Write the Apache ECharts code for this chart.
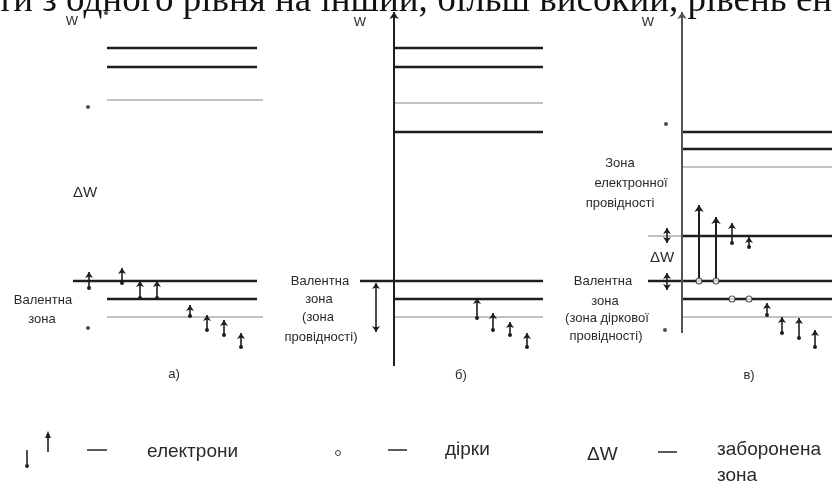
<!DOCTYPE html>
<html>
<head>
<meta charset="utf-8">
<script src="https://cdn.jsdelivr.net/npm/echarts@6/dist/echarts.min.js"></script>
<style>
html, body { margin: 0; padding: 0; background: #fff; }
#chart { width: 833px; height: 485px; }
</style>
</head>
<body>
<div id="chart"></div>
<script>
// energy W (arbitrary units), x measured from the W axis of each panel
const wMax = 35.3;

// level lines: [xFrom, xTo, W]
const levelsA = [[0.1, 15.1, 31.7], [0.1, 15.1, 29.8], [-3.3, 15.1, 8.4], [0.1, 15.1, 6.6]];
const faintA = [[0.1, 15.7, 26.5], [0.1, 15.7, 4.8]];
const levelsB = [[0, 14.9, 31.7], [0, 14.9, 29.8], [0, 14.9, 23.3], [-3.4, 14.9, 8.4], [0, 14.9, 6.6]];
const faintB = [[0, 14.9, 26.2], [0, 14.9, 4.8]];
const levelsC = [[0, 15, 23.3], [0, 15, 21.6], [0, 15, 12.9], [-3.4, 15, 8.4], [0, 15, 6.6]];
const faintC = [[0, 15, 19.8], [-3.4, 0, 12.9], [0, 15, 4.8]];

// W axes: [x, Wfrom, Wto]
const axisB = [[0, -0.2, 35.3]];
const axisC = [[0, 3.2, 35.3]];

// electrons: [x, Wbottom, Wtop]
const electronsA = [[-1.7, 7.7, 9.3], [1.6, 8.2, 9.7], [3.4, 6.7, 8.4], [5.1, 6.7, 8.4],
  [8.4, 4.9, 6.0], [10.1, 3.5, 5.0], [11.8, 3.0, 4.5], [13.5, 1.8, 3.2]];
const electronsB = [[8.3, 4.7, 6.7], [9.9, 3.5, 5.2], [11.6, 3.0, 4.3], [13.3, 1.8, 3.2]];
const electronsC = [[5.0, 12.2, 14.2], [6.7, 11.8, 12.8], [8.5, 5.0, 6.2],
  [10.0, 3.2, 4.8], [11.7, 2.7, 4.7], [13.3, 1.8, 3.5]];
// jumps from valence band into conduction band (panel c)
const jumpsC = [[1.7, 8.4, 16.0], [3.4, 8.4, 14.8]];
// holes: [x, W]
const holesC = [[1.7, 8.4], [3.4, 8.4], [5.0, 6.6], [6.7, 6.6]];
// gap markers (double arrows): [x, Wfrom, Wto]
const gapB = [[-1.8, 3.3, 8.2]];
const gapC = [[-1.5, 12.2, 13.7], [-1.5, 7.5, 9.2]];
// stray dots of the print
const dotsA = [[0, 35.2], [-1.8, 25.8], [-1.8, 3.7]];
const dotsC = [[-1.6, 24.1], [-1.7, 3.5]];

const dark = '#1e1e1e';
const faint = '#c2c2c2';

function flat(list) {
  return list.map(([x1, x2, w]) => ({ coords: [[x1, w], [x2, w]] }));
}
function vert(list) {
  return list.map(([x, w1, w2]) => ({ coords: [[x, w1], [x, w2]] }));
}

function panelSeries(i, o) {
  const base = { type: 'lines', coordinateSystem: 'cartesian2d', xAxisIndex: i, yAxisIndex: i, silent: true, z: 2 };
  const s = [
    Object.assign({}, base, { data: flat(o.levels), symbol: 'none', lineStyle: { color: dark, width: 2.4, opacity: 1 } }),
    Object.assign({}, base, { data: flat(o.faint), symbol: 'none', lineStyle: { color: faint, width: 2, opacity: 1 } }),
    Object.assign({}, base, { data: vert(o.electrons), symbol: ['circle', 'arrow'], symbolSize: [4, 6],
      lineStyle: { color: dark, width: 1.6, opacity: 1 } })
  ];
  if (o.axis) s.push(Object.assign({}, base, { data: vert(o.axis), symbol: ['none', 'arrow'], symbolSize: [1, 7],
    lineStyle: { color: o.axisColor, width: 2, opacity: 1 } }));
  if (o.gap) s.push(Object.assign({}, base, { data: vert(o.gap), symbol: ['arrow', 'arrow'], symbolSize: 6,
    lineStyle: { color: dark, width: 1.6, opacity: 1 } }));
  if (o.jumps) s.push(Object.assign({}, base, { data: vert(o.jumps), symbol: ['none', 'arrow'], symbolSize: 7,
    lineStyle: { color: dark, width: 2, opacity: 1 } }));
  if (o.dots) s.push({ type: 'scatter', xAxisIndex: i, yAxisIndex: i, data: o.dots, symbolSize: 4,
    itemStyle: { color: '#222' }, silent: true });
  if (o.holes) s.push({ type: 'scatter', xAxisIndex: i, yAxisIndex: i, data: o.holes, symbol: 'circle', symbolSize: 6,
    itemStyle: { color: '#fff', borderColor: '#333', borderWidth: 1.2 }, silent: true, z: 5 });
  return s;
}

const labelFont = '13px "Liberation Sans", Arial, sans-serif';
const legendFont = '19px "Liberation Sans", Arial, sans-serif';

function txt(text, x, y, font, align, color) {
  return { type: 'text', x: x, y: y, silent: true,
    style: { text: text, font: font, fill: color || '#2a2a2a', align: align || 'center', verticalAlign: 'middle' } };
}

const myChart = echarts.init(document.getElementById('chart'));
myChart.setOption({
  animation: false,
  backgroundColor: '#fff',
  grid: [
    { left: 6, top: 12, width: 270, height: 353 },
    { left: 284, top: 12, width: 270, height: 353 },
    { left: 562, top: 12, width: 270, height: 353 }
  ],
  xAxis: [
    { gridIndex: 0, type: 'value', min: -10, max: 17, show: false },
    { gridIndex: 1, type: 'value', min: -11, max: 16, show: false },
    { gridIndex: 2, type: 'value', min: -12, max: 15, show: false }
  ],
  yAxis: [0, 1, 2].map(i => ({ gridIndex: i, type: 'value', min: 0, max: wMax, show: false })),
  series: [].concat(
    panelSeries(0, { levels: levelsA, faint: faintA, electrons: electronsA, dots: dotsA }),
    panelSeries(1, { levels: levelsB, faint: faintB, electrons: electronsB, axis: axisB, axisColor: dark, gap: gapB }),
    panelSeries(2, { levels: levelsC, faint: faintC, electrons: electronsC, axis: axisC, axisColor: '#555',
      gap: gapC, jumps: jumpsC, holes: holesC, dots: dotsC })
  ),
  graphic: [
    txt('ти з одного рівня на інший, більш високий, рівень ен', -3, 1, '37px "Liberation Serif", serif', 'left', '#111'),
    // panel a
    txt('W', 72, 21, labelFont),
    txt('ΔW', 85, 193, '15px "Liberation Sans", Arial, sans-serif'),
    txt('Валентна', 43, 300, labelFont),
    txt('зона', 42, 319, labelFont),
    txt('а)', 174, 374, labelFont),
    // panel b
    txt('W', 360, 22, labelFont),
    txt('Валентна', 320, 281, labelFont),
    txt('зона', 319, 299, labelFont),
    txt('(зона', 318, 317, labelFont),
    txt('провідності)', 321, 337, labelFont),
    txt('б)', 461, 375, labelFont),
    // panel c
    txt('W', 648, 22, labelFont),
    txt('Зона', 620, 163, labelFont),
    txt('електронної', 631, 183, labelFont),
    txt('провідності', 620, 203, labelFont),
    txt('ΔW', 662, 258, '15px "Liberation Sans", Arial, sans-serif'),
    txt('Валентна', 603, 281, labelFont),
    txt('зона', 605, 301, labelFont),
    txt('(зона діркової', 607, 318, labelFont),
    txt('провідності)', 606, 336, labelFont),
    txt('в)', 749, 375, labelFont),
    // legend
    { type: 'line', shape: { x1: 27, y1: 450, x2: 27, y2: 466 }, style: { stroke: '#222', lineWidth: 1.6 } },
    { type: 'circle', shape: { cx: 27, cy: 466, r: 2 }, style: { fill: '#222' } },
    { type: 'line', shape: { x1: 48, y1: 434, x2: 48, y2: 452 }, style: { stroke: '#222', lineWidth: 1.6 } },
    { type: 'polygon', shape: { points: [[45, 438], [48, 431], [51, 438]] }, style: { fill: '#222' } },
    { type: 'line', shape: { x1: 87, y1: 450, x2: 107, y2: 450 }, style: { stroke: '#333', lineWidth: 1.6 } },
    txt('електрони', 147, 452, legendFont, 'left'),
    { type: 'circle', shape: { cx: 338, cy: 453, r: 2.5 }, style: { fill: '#fff', stroke: '#444', lineWidth: 1 } },
    { type: 'line', shape: { x1: 388, y1: 450, x2: 407, y2: 450 }, style: { stroke: '#333', lineWidth: 1.6 } },
    txt('дірки', 445, 450, legendFont, 'left'),
    txt('ΔW', 587, 455, legendFont, 'left'),
    { type: 'line', shape: { x1: 658, y1: 452, x2: 677, y2: 452 }, style: { stroke: '#333', lineWidth: 1.6 } },
    txt('заборонена', 717, 450, legendFont, 'left'),
    txt('зона', 717, 476, legendFont, 'left')
  ]
});
</script>
</body>
</html>
